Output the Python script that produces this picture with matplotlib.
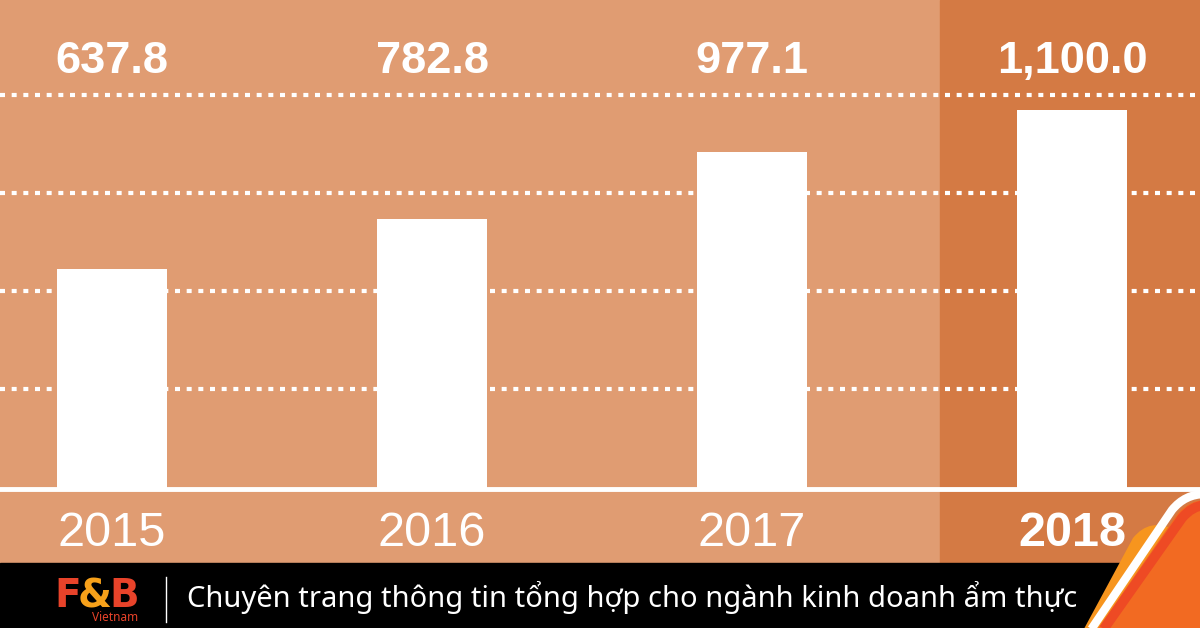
import matplotlib
matplotlib.use('Agg')
import matplotlib.pyplot as plt
import matplotlib.transforms as mtransforms
from matplotlib.patches import Rectangle, PathPatch
from matplotlib.path import Path

# data
years = ['2015', '2016', '2017', '2018']
values = [637.8, 782.8, 977.1, 1100.0]
value_labels = ['637.8', '782.8', '977.1', '1,100.0']
grid_levels = [290, 574, 858, 1142]
footer_text = 'Chuyên trang thông tin tổng hợp cho ngành kinh doanh ẩm thực'

BG = '#E09C72'
HILITE = '#D47A44'
W, H = 1200, 628
px_per_unit = 0.345
base_px = 489

plt.rcParams['font.family'] = ['Liberation Sans', 'DejaVu Sans']

fig = plt.figure(figsize=(W / 100, H / 100), dpi=100)
fig.patch.set_facecolor(BG)

# background layer in pixel coords
bg = fig.add_axes([0, 0, 1, 1])
bg.set_xlim(0, W)
bg.set_ylim(H, 0)
bg.axis('off')
bg.add_patch(Rectangle((940, 0), 260, 563, color=HILITE, zorder=0))
bg.add_patch(Rectangle((0, 563), W, 65, color='black', zorder=0))

# chart axes
ax = fig.add_axes([0, (H - base_px) / H, 1, base_px / H])
ax.patch.set_visible(False)
ax.set_xlim(-112 / 320, (W - 112) / 320)
ax.set_ylim(0, base_px / px_per_unit)
ax.axis('off')

for g in grid_levels:
    ax.axhline(g, color='white', lw=3, ls=(0, (1.2, 1.6)), zorder=1)

ax.bar(range(len(values)), values, width=110 / 320, color='white', zorder=2)
ax.axhline(0, color='white', lw=3.5, zorder=3, clip_on=False)

tr = mtransforms.blended_transform_factory(ax.transData, bg.transData)
for i, (yr, lab) in enumerate(zip(years, value_labels)):
    ax.text(i, 73, lab, transform=tr, ha='center', va='baseline',
            color='white', fontsize=32.5, fontweight='bold')
    ax.text(i, 546, yr, transform=tr, ha='center', va='baseline',
            color='white', fontsize=35,
            fontweight='bold' if i == len(years) - 1 else 'normal')

# footer logo, letters placed side by side
fig.canvas.draw()
inv = bg.transData.inverted()
x = 54
for ch, col in [('F', '#E8432A'), ('&', '#F7A11A'), ('B', '#E8432A')]:
    t = bg.text(x, 607, ch, color=col, fontsize=28, fontweight='bold', va='baseline',
                family=['DejaVu Sans'])
    bb = t.get_window_extent(fig.canvas.get_renderer())
    x = inv.transform((bb.x1, bb.y1))[0] - 2.5
bg.text(138, 621, 'Vietnam', color='#E8432A', fontsize=8.5, ha='right', va='baseline',
        family=['Noto Sans', 'DejaVu Sans'])
bg.plot([165.5, 165.5], [577, 622], color='white', lw=1)

ft = bg.text(187, 607, footer_text, color='white', fontsize=20, va='baseline',
             family=['Noto Sans', 'DejaVu Sans'])
fig.canvas.draw()
wpx = ft.get_window_extent().width
ft.set_fontsize(20 * 888 / wpx)

# corner decoration
orange = Path([(1078, 640), (1133, 538), (1150, 517), (1175, 530), (1205, 560), (1205, 640), (1078, 640)],
              [Path.MOVETO, Path.LINETO, Path.CURVE3, Path.CURVE3, Path.LINETO, Path.LINETO, Path.CLOSEPOLY])
bg.add_patch(PathPatch(orange, facecolor='#F7951E', edgecolor='none', zorder=5))
right = Path([(1090, 640), (1178, 513), (1190, 500), (1205, 500), (1205, 640), (1090, 640)],
             [Path.MOVETO, Path.LINETO, Path.CURVE3, Path.CURVE3, Path.LINETO, Path.CLOSEPOLY])
bg.add_patch(PathPatch(right, facecolor='#F26A22', edgecolor='none', zorder=6))
red = Path([(1096, 640), (1182, 518), (1192, 506), (1205, 505)],
           [Path.MOVETO, Path.LINETO, Path.CURVE3, Path.CURVE3])
bg.add_patch(PathPatch(red, facecolor='none', edgecolor='#EE4A24', lw=7, capstyle='butt', zorder=7))
white = Path([(1084, 640), (1172, 510), (1185, 494), (1205, 494)],
             [Path.MOVETO, Path.LINETO, Path.CURVE3, Path.CURVE3])
bg.add_patch(PathPatch(white, facecolor='none', edgecolor='white', lw=6, capstyle='butt', zorder=8))

fig.savefig('out.png', dpi=100, facecolor=BG)
